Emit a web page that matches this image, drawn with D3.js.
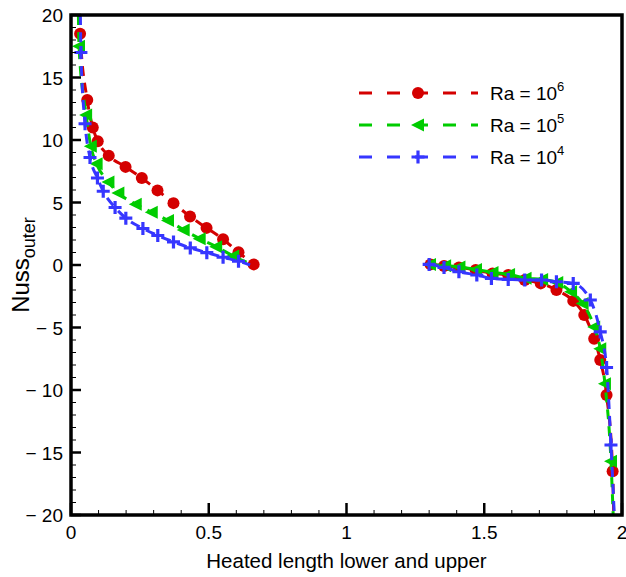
<!DOCTYPE html>
<html>
<head>
<meta charset="utf-8">
<script src="https://cdn.jsdelivr.net/npm/d3@7"></script>
<style>
  body { margin: 0; background: #fff; }
  text { font-family: "Liberation Sans", Arial, Helvetica, sans-serif; fill: #000; }
</style>
</head>
<body>
<svg id="chart"></svg>
<script>
// data (x = heated length, y = Nuss outer)
// Ra = 1e6 (red circles)
const redLeftX  = [0.031, 0.033, 0.059, 0.079, 0.097, 0.137, 0.198, 0.257, 0.314, 0.372, 0.432, 0.492, 0.552, 0.608, 0.663];
const redLeftY  = [20.0, 18.5, 13.2, 11.0, 9.9, 8.75, 7.85, 6.96, 5.97, 4.95, 3.88, 2.97, 2.06, 1.02, 0.05];
const redRightX = [1.305, 1.354, 1.408, 1.469, 1.530, 1.587, 1.647, 1.705, 1.762, 1.823, 1.863, 1.899, 1.921, 1.944, 1.966, 1.970];
const redRightY = [0.05, -0.08, -0.19, -0.40, -0.67, -0.80, -1.20, -1.47, -2.00, -2.87, -4.00, -5.90, -7.60, -10.4, -16.5, -20.0];

// Ra = 1e5 (green triangles)
const greenLeftX  = [0.027, 0.029, 0.055, 0.072, 0.093, 0.136, 0.172, 0.235, 0.293, 0.352, 0.409, 0.467, 0.527, 0.589, 0.655];
const greenLeftY  = [20.0, 17.5, 12.0, 9.5, 8.1, 6.64, 5.76, 4.87, 4.23, 3.56, 2.81, 2.11, 1.47, 0.72, 0.05];
const greenRightX = [1.303, 1.358, 1.410, 1.470, 1.530, 1.590, 1.650, 1.710, 1.765, 1.815, 1.857, 1.899, 1.921, 1.938, 1.960, 1.968];
const greenRightY = [0.05, -0.05, -0.15, -0.35, -0.60, -0.75, -1.05, -1.15, -1.40, -2.14, -3.08, -4.95, -6.70, -9.50, -15.7, -20.0];

// Ra = 1e4 (blue crosses)
const blueLeftX  = [0.034, 0.036, 0.051, 0.069, 0.096, 0.117, 0.160, 0.199, 0.261, 0.315, 0.372, 0.433, 0.493, 0.552, 0.608, 0.650];
const blueLeftY  = [20.0, 17.0, 11.3, 8.6, 6.96, 5.9, 4.6, 3.75, 2.92, 2.36, 1.85, 1.37, 0.99, 0.62, 0.30, 0.0];
const blueRightX = [1.300, 1.354, 1.408, 1.473, 1.526, 1.587, 1.647, 1.708, 1.762, 1.823, 1.885, 1.921, 1.944, 1.960, 1.972];
const blueRightY = [0.05, -0.19, -0.54, -0.80, -1.07, -1.15, -1.20, -1.20, -1.34, -1.47, -2.80, -5.35, -8.20, -14.4, -20.0];

const xTicks = [0, 0.5, 1, 1.5, 2];
const yTicks = [-20, -15, -10, -5, 0, 5, 10, 15, 20];
const legendExps = ["6", "5", "4"];

// colors
const RED = "#d40000";
const GREEN = "#00cc00";
const BLUE = "#3636ff";

const width = 626, height = 577;
const margin = {left: 71, right: 4, top: 15, bottom: 62};

const svg = d3.select("#chart")
    .attr("width", width)
    .attr("height", height);

const x = d3.scaleLinear().domain([0, 2]).range([margin.left, width - margin.right]);
const y = d3.scaleLinear().domain([-20, 20]).range([height - margin.bottom, margin.top]);

svg.append("clipPath").attr("id", "plotClip")
    .append("rect")
    .attr("x", x(0)).attr("y", y(20))
    .attr("width", x(2) - x(0)).attr("height", y(-20) - y(20));

const zip = (xs, ys) => xs.map((v, i) => [v, ys[i]]);

// first/last points are only line ends, no marker
const series = [
    {color: RED, shape: "circle", parts: [zip(redLeftX, redLeftY), zip(redRightX, redRightY)], skipEnds: [[0], [15]]},
    {color: GREEN, shape: "triangle", parts: [zip(greenLeftX, greenLeftY), zip(greenRightX, greenRightY)], skipEnds: [[0, 14], [15]]},
    {color: BLUE, shape: "cross", parts: [zip(blueLeftX, blueLeftY), zip(blueRightX, blueRightY)], skipEnds: [[0, 15], [14]]}
];

const line = d3.line()
    .x(d => x(d[0]))
    .y(d => y(d[1]))
    .curve(d3.curveMonotoneX);

// marker drawing
function drawMarker(g, shape, color, cx, cy) {
    if (shape === "circle") {
        g.append("circle").attr("cx", cx).attr("cy", cy).attr("r", 6).attr("fill", color);
    } else if (shape === "triangle") {
        g.append("path")
            .attr("d", `M${cx - 7},${cy} L${cx + 6},${cy - 6.5} L${cx + 6},${cy + 6.5} Z`)
            .attr("fill", color);
    } else {
        g.append("path")
            .attr("d", `M${cx - 6.5},${cy} H${cx + 6.5} M${cx},${cy - 6.5} V${cy + 6.5}`)
            .attr("stroke", color).attr("stroke-width", 3.2).attr("fill", "none");
    }
}

const plot = svg.append("g").attr("clip-path", "url(#plotClip)");

series.forEach(s => {
    s.parts.forEach((pts, pi) => {
        plot.append("path")
            .datum(pts)
            .attr("d", line)
            .attr("fill", "none")
            .attr("stroke", s.color)
            .attr("stroke-width", 3)
            .attr("stroke-dasharray", "10,7");
        pts.forEach((p, i) => {
            if (s.skipEnds[pi].includes(i)) return;
            drawMarker(plot, s.shape, s.color, x(p[0]), y(p[1]));
        });
    });
});

/* axes */
const axisG = svg.append("g");

// minor and major ticks, drawn inward
d3.range(-20, 21, 1).forEach(v => {
    const major = v % 5 === 0;
    axisG.append("line")
        .attr("x1", x(0)).attr("x2", x(0) + (major ? 10 : 5))
        .attr("y1", y(v)).attr("y2", y(v))
        .attr("stroke", "#000").attr("stroke-width", major ? 2.5 : 1);
});
d3.range(0, 2.001, 0.1).forEach(v => {
    const major = Math.abs(v * 2 - Math.round(v * 2)) < 1e-6;
    axisG.append("line")
        .attr("x1", x(v)).attr("x2", x(v))
        .attr("y1", y(-20)).attr("y2", y(-20) - (major ? 12 : 5))
        .attr("stroke", "#000").attr("stroke-width", major ? 2.5 : 1);
});

// frame
axisG.append("rect")
    .attr("x", x(0)).attr("y", y(20))
    .attr("width", x(2) - x(0)).attr("height", y(-20) - y(20))
    .attr("fill", "none").attr("stroke", "#000").attr("stroke-width", 3.5);

// tick labels
axisG.selectAll(".ylab")
    .data(yTicks)
    .enter()
    .append("text")
    .attr("x", x(0) - 8)
    .attr("y", d => y(d) + 7)
    .attr("text-anchor", "end")
    .attr("font-size", 19)
    .text(d => d < 0 ? "\u2212 " + Math.abs(d) : d);

axisG.selectAll(".xlab")
    .data(xTicks)
    .enter()
    .append("text")
    .attr("x", d => x(d))
    .attr("y", y(-20) + 24)
    .attr("text-anchor", "middle")
    .attr("font-size", 19)
    .text(d => d);

// axis titles
svg.append("text")
    .attr("x", (x(0) + x(2)) / 2)
    .attr("y", 568)
    .attr("text-anchor", "middle")
    .attr("font-size", 20.5)
    .text("Heated length lower and upper");

const yTitle = svg.append("text")
    .attr("transform", `translate(29, ${y(0)}) rotate(-90)`)
    .attr("text-anchor", "middle")
    .attr("font-size", 24);
yTitle.append("tspan").text("Nuss");
yTitle.append("tspan").attr("font-size", 18).attr("dy", 6).text("outer");

/* legend */
const legend = svg.append("g");
const legendY = [93, 125, 157];
series.forEach((s, i) => {
    legend.append("line")
        .attr("x1", 359).attr("x2", 478)
        .attr("y1", legendY[i]).attr("y2", legendY[i])
        .attr("stroke", s.color).attr("stroke-width", 3)
        .attr("stroke-dasharray", "13,15");
    drawMarker(legend, s.shape, s.color, 418, legendY[i]);
    const t = legend.append("text")
        .attr("x", 490).attr("y", legendY[i] + 7)
        .attr("font-size", 19);
    t.append("tspan").text("Ra = 10");
    t.append("tspan").attr("font-size", 13).attr("dy", -9).text(legendExps[i]);
});
</script>
</body>
</html>
